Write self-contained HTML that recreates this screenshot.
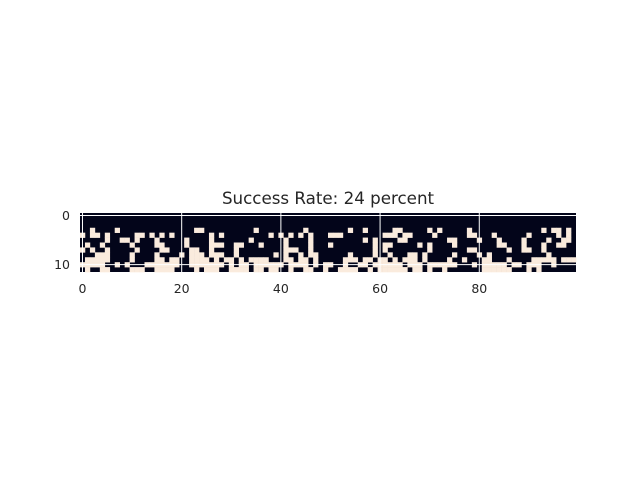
<!DOCTYPE html>
<html><head><meta charset="utf-8"><style>
body{margin:0;background:#fff;}
svg{display:block;font-family:"DejaVu Sans","Liberation Sans",sans-serif;}
</style></head><body>
<svg id="chart" width="640" height="480" viewBox="0 0 640 480">
<text x="328" y="204" text-anchor="middle" font-size="16.7" fill="#262626">Success Rate: 24 percent</text>
<g id="cells"></g>
<g id="grid"></g>
<g id="ticks"></g>
</svg>
<script>
const nCols = 100;
const nRows = 12;
const lightRows = [
 [], [], [],
 [2,7,23,24,35,45,54,57,63,64,70,72,78,93,95,96,98],
 [0,2,3,5,11,12,14,16,18,26,28,38,40,42,44,46,50,51,52,61,62,63,65,66,71,78,79,83,90,96,98],
 [5,8,9,11,15,21,26,34,41,46,57,59,64,65,74,75,80,84,89,94,97,98],
 [1,4,10,15,16,21,26,27,28,31,32,36,41,46,50,59,61,62,68,70,75,84,85,89,93,96,97],
 [0,2,5,11,16,17,22,23,26,31,41,42,43,46,59,61,70,78,79,86,89,90,93],
 [3,4,5,10,15,20,22,23,24,26,27,28,31,39,41,44,46,47,54,59,62,66,67,69,75,80,82,94],
 [1,2,3,4,5,10,15,16,18,19,22,23,24,25,27,29,30,32,34,35,36,37,41,42,44,45,47,53,54,55,57,58,60,61,63,65,66,67,69,74,77,81,82,86,91,92,93,94,95,97,98,99],
 [0,1,2,3,4,7,9,13,14,15,16,17,18,19,22,23,24,25,26,27,28,30,32,33,35,36,37,38,39,40,42,43,44,45,47,49,50,53,56,57,59,60,61,62,63,64,66,67,68,70,71,72,73,74,75,79,81,82,83,84,85,87,88,90,91,92,95],
 [1,4,5,10,11,12,15,16,17,18,23,25,26,27,30,31,32,33,35,36,38,39,42,45,46,49,52,53,54,55,58,60,61,62,63,64,65,67,68,70,73,81,82,83,84,85,86,90,92]
];
const xTicks = [0,20,40,60,80];
const yTicks = [0,10];

const X0=80, X1=576, Y0=213, Y1=272;
const cw=(X1-X0)/nCols, ch=(Y1-Y0)/nRows;
const xs = v => X0 + (v+0.5)*cw;
const ys = v => Y0 + (v+0.5)*ch;
const NS="http://www.w3.org/2000/svg";
const cells=document.getElementById('cells');
const bg=document.createElementNS(NS,'rect');
bg.setAttribute('x',X0);bg.setAttribute('y',Y0);bg.setAttribute('width',X1-X0);bg.setAttribute('height',Y1-Y0);bg.setAttribute('fill','#03051a');


cells.appendChild(bg);
lightRows.forEach((row,r)=>{
  row.forEach(c=>{
    const el=document.createElementNS(NS,'rect');
    el.setAttribute('x',(xs(c)-cw/2).toFixed(2));
    el.setAttribute('y',(ys(r)-ch/2).toFixed(2));
    el.setAttribute('width',(cw+0.3).toFixed(2));
    el.setAttribute('height',(ch+0.3).toFixed(2));
    el.setAttribute('fill','#faebdd');
    
    
    cells.appendChild(el);
  });
});
const grid=document.getElementById('grid');
const ticks=document.getElementById('ticks');
xTicks.forEach(t=>{
  const l=document.createElementNS(NS,'line');
  l.setAttribute('x1',xs(t));l.setAttribute('x2',xs(t));l.setAttribute('y1',Y0);l.setAttribute('y2',Y1);
  l.setAttribute('stroke','#fff');l.setAttribute('stroke-width','1');
  
  
  grid.appendChild(l);
  const tx=document.createElementNS(NS,'text');
  tx.setAttribute('x',xs(t));tx.setAttribute('y',293);tx.setAttribute('text-anchor','middle');
  tx.setAttribute('font-size','12.5');tx.setAttribute('fill','#262626');tx.textContent=t;
  
  
  ticks.appendChild(tx);
});
yTicks.forEach(t=>{
  const l=document.createElementNS(NS,'line');
  l.setAttribute('x1',X0);l.setAttribute('x2',X1);l.setAttribute('y1',ys(t));l.setAttribute('y2',ys(t));
  l.setAttribute('stroke','#fff');l.setAttribute('stroke-width','1');
  
  
  grid.appendChild(l);
  const tx=document.createElementNS(NS,'text');
  tx.setAttribute('x',70);tx.setAttribute('y',ys(t)+4.5);tx.setAttribute('text-anchor','end');
  tx.setAttribute('font-size','12.5');tx.setAttribute('fill','#262626');tx.textContent=t;
  
  
  ticks.appendChild(tx);
});
</script>
</body></html>
